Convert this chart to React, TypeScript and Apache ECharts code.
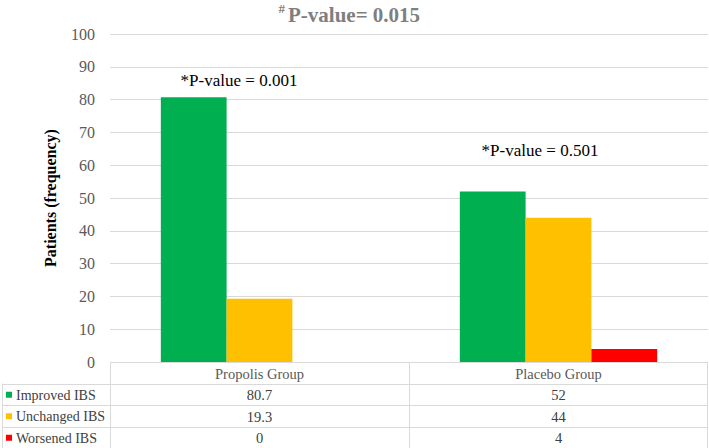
import React, { useEffect, useRef } from "react";
import * as echarts from "echarts";

const categories = ["Propolis Group", "Placebo Group"];
const seriesNames = ["Improved IBS", "Unchanged IBS", "Worsened IBS"];
const improved = [80.7, 52];
const unchanged = [19.3, 44];
const worsened = [0, 4];
const colors = ["#00b050", "#ffc000", "#ff0000"];
const yTicks = [0, 100, 10];
const titleText = "P-value= 0.015";
const annotations = ["*P-value = 0.001", "*P-value = 0.501"];

const W = 709;
const H = 448;
const GL = 110;
const GR = 708;
const GT = 34;
const GB = 362;
const ROW = 21.5;
const SERIF = "'Liberation Serif', 'Times New Roman', serif";

export default function App() {
  const ref = useRef<HTMLDivElement>(null);
  useEffect(() => {
    if (!ref.current) return;
    const chart = echarts.init(ref.current, undefined, { renderer: "svg" });
    const data = [improved, unchanged, worsened];
    const lineStyle = { stroke: "#d9d9d9", lineWidth: 1 };
    const graphics: any[] = [];
    const catW = (GR - GL) / categories.length;
    graphics.push({ type: "line", shape: { x1: GL, y1: GB + 0.5, x2: GR, y2: GB + 0.5 }, style: lineStyle });
    for (let r = 0; r <= 3; r++) {
      const y = Math.round(GB + ROW * (r + 1)) + 0.5;
      graphics.push({ type: "line", shape: { x1: 2, y1: y, x2: GR, y2: y }, style: lineStyle });
    }
    graphics.push({ type: "line", shape: { x1: 2.5, y1: GB + ROW, x2: 2.5, y2: H }, style: lineStyle });
    for (let c = 0; c <= categories.length; c++) {
      const x = Math.round(GL + catW * c) - (c === categories.length ? 0.5 : -0.5);
      graphics.push({ type: "line", shape: { x1: x, y1: GB, x2: x, y2: H }, style: lineStyle });
    }
    categories.forEach((cat, c) => {
      graphics.push({
        type: "text",
        style: {
          x: GL + catW * (c + 0.5), y: GB + ROW / 2 + 1, text: cat, align: "center", verticalAlign: "middle",
          fill: "#595959", font: `14.5px ${SERIF}`,
        },
      });
    });
    seriesNames.forEach((name, r) => {
      const yc = GB + ROW * (r + 1.5) + 1;
      graphics.push({ type: "rect", shape: { x: 6, y: yc - 3.5, width: 6, height: 6 }, style: { fill: colors[r] } });
      graphics.push({
        type: "text",
        style: { x: 16, y: yc, text: name, align: "left", verticalAlign: "middle", fill: "#404040", font: `14px ${SERIF}` },
      });
      data[r].forEach((v, c) => {
        graphics.push({
          type: "text",
          style: {
            x: GL + catW * (c + 0.5), y: yc, text: String(v), align: "center", verticalAlign: "middle",
            fill: "#404040", font: `14.5px ${SERIF}`,
          },
        });
      });
    });
    graphics.push({
      type: "text",
      style: { x: 285, y: 8, text: "#", align: "right", verticalAlign: "middle", fill: "#7f7f7f", font: `bold 13px ${SERIF}` },
    });
    graphics.push({
      type: "text",
      style: { x: 288, y: 15, text: titleText, align: "left", verticalAlign: "middle", fill: "#7f7f7f", font: `bold 21px ${SERIF}` },
    });
    graphics.push({
      type: "text",
      style: { x: 239, y: 80, text: annotations[0], align: "center", verticalAlign: "middle", fill: "#000", font: `17px ${SERIF}` },
    });
    graphics.push({
      type: "text",
      style: { x: 540, y: 150, text: annotations[1], align: "center", verticalAlign: "middle", fill: "#000", font: `17px ${SERIF}` },
    });

    chart.setOption({
      animation: false,
      grid: { left: GL, right: W - GR, top: GT, bottom: H - GB, containLabel: false },
      xAxis: {
        type: "category",
        data: categories,
        axisLine: { show: false },
        axisTick: { show: false },
        axisLabel: { show: false },
      },
      yAxis: {
        type: "value",
        min: yTicks[0],
        max: yTicks[1],
        interval: yTicks[2],
        name: "Patients (frequency)",
        nameLocation: "middle",
        nameRotate: 90,
        nameGap: 52,
        nameTextStyle: { fontFamily: SERIF, fontWeight: "bold", fontSize: 16, color: "#000" },
        axisLine: { show: false },
        axisTick: { show: false },
        axisLabel: { fontFamily: SERIF, fontSize: 16, color: "#595959", margin: 15 },
        splitLine: { lineStyle: { color: "#d9d9d9", width: 1 } },
      },
      series: seriesNames.map((name, i) => ({
        name,
        type: "bar",
        data: data[i],
        barGap: "0%",
        barCategoryGap: "34%",
        itemStyle: { color: colors[i] },
      })),
      graphic: graphics,
    });
    return () => chart.dispose();
  }, []);
  return <div ref={ref} style={{ width: W, height: H, position: "absolute", left: 0, top: 0 }} />;
}
